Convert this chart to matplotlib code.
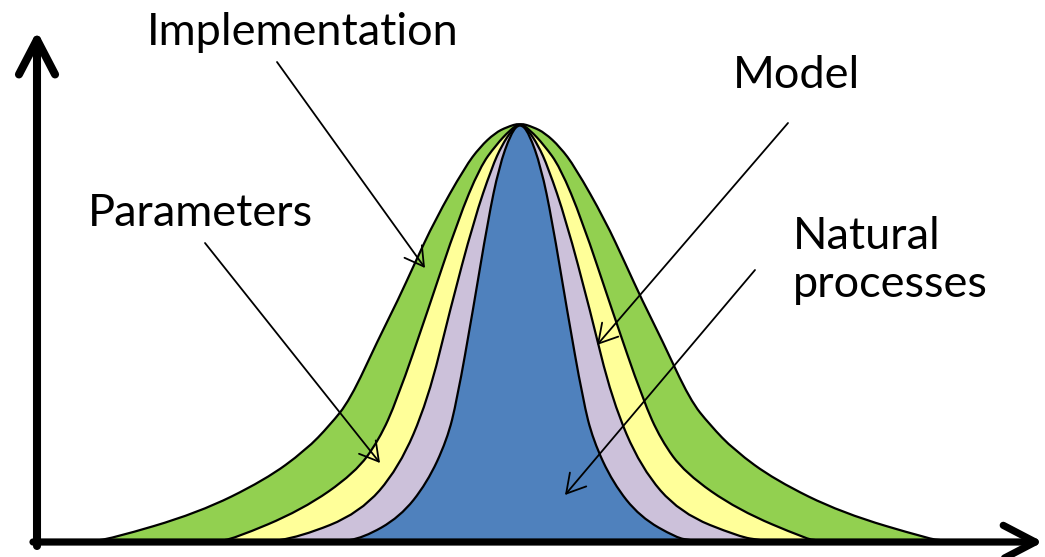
import numpy as np
import matplotlib
matplotlib.use("Agg")
import matplotlib.pyplot as plt
from matplotlib.path import Path
from matplotlib.patches import PathPatch

# --- data: half-width (px from centre) at a given height above baseline ---
CENTER = 520
green_h = [417, 413, 407, 393, 373, 320, 275, 240, 200, 140, 115, 90, 60, 27, 1, 0]
green_w = [0, 13, 25, 40, 55, 85, 106, 122, 142, 170, 190, 214, 255, 322, 410, 420]

yellow_h = [417, 410, 395, 373, 320, 230, 140, 100, 67, 30, 1, 0]
yellow_w = [0, 10, 24, 40, 62, 92, 123, 141, 165, 218, 287, 295]

lavender_h = [417, 410, 395, 373, 320, 230, 140, 72, 27, 3, 0]
lavender_w = [0, 8, 18, 28, 46, 70, 92, 121, 160, 220, 240]

blue_h = [417, 407, 373, 320, 230, 140, 100, 57, 23, 2, 0]
blue_w = [0, 9, 21, 32, 47, 63, 73, 93, 120, 157, 170]

curves = [
    (green_h, green_w, "#92D050"),
    (yellow_h, yellow_w, "#FFFF99"),
    (lavender_h, lavender_w, "#CCC1DA"),
    (blue_h, blue_w, "#4F81BD"),
]

labels = ["Implementation", "Model", "Parameters", "Natural\nprocesses"]


def bell_path(hs, ws):
    # left side bottom -> top, then mirrored right side top -> bottom
    hs = np.asarray(hs, float)
    ws = np.asarray(ws, float)
    left = np.column_stack([CENTER - ws[::-1], hs[::-1]])
    right = np.column_stack([CENTER + ws[1:], hs[1:]])
    pts = np.vstack([left, right])
    # quadratic b-spline through midpoints for a smooth outline
    verts = [pts[0]]
    codes = [Path.MOVETO]
    for i in range(1, len(pts) - 1):
        mid = (pts[i] + pts[i + 1]) / 2
        verts += [pts[i], mid]
        codes += [Path.CURVE3, Path.CURVE3]
    verts.append(pts[-1])
    codes.append(Path.LINETO)
    return Path(verts, codes)


fig = plt.figure(figsize=(10.45, 5.57), dpi=100)
ax = fig.add_axes([0, 0, 1, 1])
ax.set_xlim(0, 1045)
ax.set_ylim(-17, 540)
ax.axis("off")

for hs, ws, col in curves:
    ax.add_patch(PathPatch(bell_path(hs, ws), facecolor=col,
                           edgecolor="black", lw=1.6, zorder=2))

# axes with arrow heads
ax.annotate("", xy=(37, 509), xytext=(37, -6),
            arrowprops=dict(arrowstyle="->,head_length=1.25,head_width=0.65",
                            lw=5.8, color="black", mutation_scale=20,
                            shrinkA=0, shrinkB=0, capstyle="round",
                            joinstyle="round"), zorder=5)
ax.annotate("", xy=(1043, -2), xytext=(33, -2),
            arrowprops=dict(arrowstyle="->,head_length=1.15,head_width=0.6",
                            lw=5.2, color="black", mutation_scale=20,
                            shrinkA=0, shrinkB=0, capstyle="round",
                            joinstyle="round"), zorder=5)

# labels
font = dict(family=["Lato", "DejaVu Sans"], fontsize=32.5, color="black")
ax.text(147, 495, labels[0], ha="left", va="baseline", **font)
ax.text(733, 452, labels[1], ha="left", va="baseline", **font)
ax.text(88, 314, labels[2], ha="left", va="baseline", **font)
ax.text(793, 243, labels[3], ha="left", va="baseline",
        linespacing=1.22, **font)

# pointer arrows
pointers = [
    ((277, 478), (425, 272)),
    ((205, 297), (380, 77)),
    ((788, 417), (597, 195)),
    ((755, 270), (565, 45)),
]
for start, tip in pointers:
    ax.annotate("", xy=tip, xytext=start,
                arrowprops=dict(arrowstyle="->,head_length=0.95,head_width=0.55",
                                lw=1.3, color="black", mutation_scale=14,
                                shrinkA=0, shrinkB=0), zorder=4)

fig.savefig("out.png", dpi=100)
